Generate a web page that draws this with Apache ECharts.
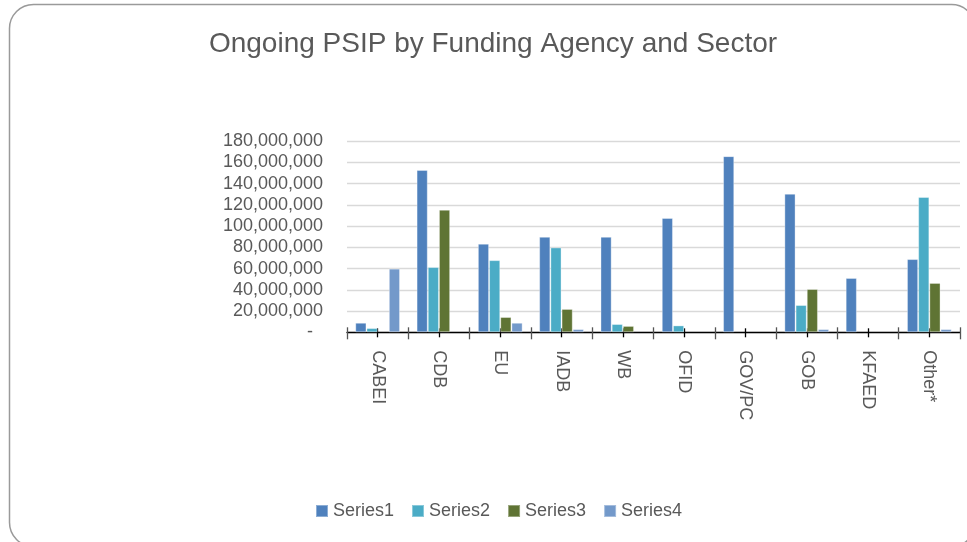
<!DOCTYPE html>
<html>
<head>
<meta charset="utf-8">
<script src="https://cdn.jsdelivr.net/npm/echarts@6/dist/echarts.min.js"></script>
<style>
html,body{margin:0;padding:0;background:#fff;}
#chart{width:967px;height:542px;}
</style>
</head>
<body>
<div id="chart"></div>
<script>
const categories = ['CABEI','CDB','EU','IADB','WB','OFID','GOV/PC','GOB','KFAED','Other*'];
const series1 = [9000000, 153000000, 83500000, 90000000, 90000000, 107700000, 166000000, 130600000, 51200000, 69000000];
const series2 = [4000000, 61500000, 68000000, 80000000, 7800000, 6500000, 0, 25700000, 0, 127500000];
const series3 = [0, 115500000, 14400000, 22000000, 6000000, 0, 0, 40800000, 0, 46500000];
const series4 = [60000000, 0, 9000000, 3000000, 0, 0, 0, 3000000, 0, 3000000];
const seriesNames = ['Series1','Series2','Series3','Series4'];
const colors = ['#4F81BD','#4BACC6','#5F7434','#7399CA'];

const chart = echarts.init(document.getElementById('chart'), null, {renderer:'canvas'});
const FONT = 'Liberation Sans';
const dataSets = [series1, series2, series3, series4];

const tickAxis = (align, len, off, color) => ({
  type: 'category', data: categories, position: 'bottom',
  axisLine: {show: false},
  axisTick: {show: true, alignWithLabel: align, length: len, lineStyle: {color: color, width: 1.3}},
  axisLabel: {show: false},
  splitLine: {show: false},
  offset: off
});

chart.setOption({
  animation: false,
  color: colors,
  title: {
    text: 'Ongoing PSIP by Funding Agency and Sector',
    left: 488, top: 25, textAlign: 'center',
    textStyle: {fontFamily: FONT, fontSize: 28, fontWeight: 'normal', color: '#595959'}
  },
  graphic: [{
    type: 'rect', silent: true, z: -1,
    shape: {x: 9.5, y: 4.5, width: 966, height: 542, r: 24},
    style: {fill: 'none', stroke: '#9a9a9a', lineWidth: 1.5}
  }],
  legend: {
    bottom: 17, left: 310,
    itemWidth: 12, itemHeight: 12, itemGap: 17,
    icon: 'rect',
    textStyle: {fontFamily: FONT, fontSize: 18, color: '#595959'},
    data: seriesNames
  },
  grid: {left: 347, right: 7, top: 141.3, bottom: 209.7, containLabel: false},
  xAxis: [{
    type: 'category', data: categories, position: 'bottom',
    axisLine: {lineStyle: {color: '#000', width: 1.3}},
    axisTick: {show: false},
    axisLabel: {rotate: -90, margin: 18, fontFamily: FONT, fontSize: 18, color: '#595959', interval: 0}
  },
  tickAxis(false, 12, -5, '#555'),
  tickAxis(true, 9, -4, '#000')
  ],
  yAxis: {
    type: 'value', min: 0, max: 180000000, interval: 20000000,
    axisLine: {show: false}, axisTick: {show: false},
    splitLine: {lineStyle: {color: '#D9D9D9', width: 1.3}},
    axisLabel: {
      margin: 24, fontFamily: FONT, fontSize: 18, color: '#595959',
      formatter: v => v === 0 ? '-  ' : v.toLocaleString('en-US')
    }
  },
  series: dataSets.map((d, i) => ({
    name: seriesNames[i], type: 'bar', xAxisIndex: 0,
    data: d.map(v => v === 0 ? null : v),
    barGap: '0%', barCategoryGap: '27%',
    itemStyle: {color: colors[i], borderColor: 'rgba(255,255,255,0.35)', borderWidth: 1}
  }))
});
</script>
</body>
</html>
